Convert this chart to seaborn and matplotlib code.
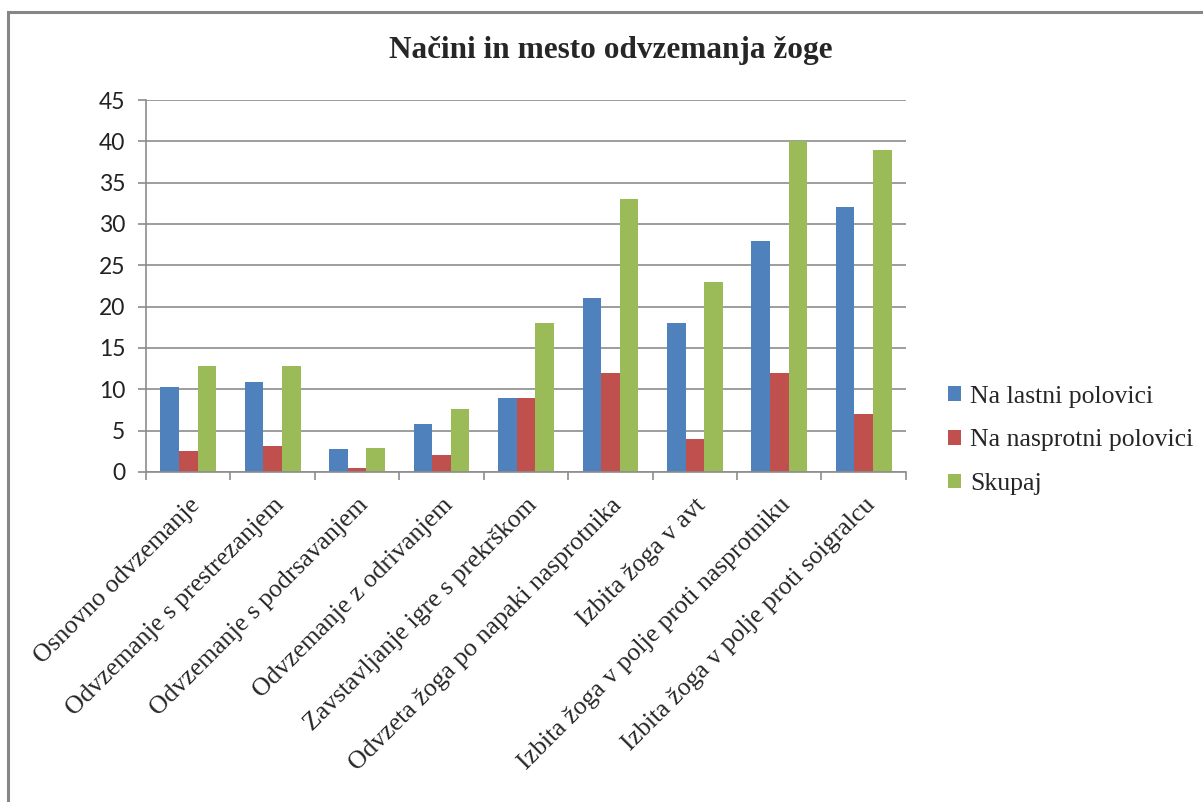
import matplotlib
matplotlib.use("Agg")
import matplotlib.pyplot as plt
import seaborn as sns
import pandas as pd
import numpy as np
from matplotlib.patches import Rectangle

# values
categories = [
    "Osnovno odvzemanje",
    "Odvzemanje s prestrezanjem",
    "Odvzemanje s podrsavanjem",
    "Odvzemanje z odrivanjem",
    "Zavstavljanje igre s prekrškom",
    "Odvzeta žoga po napaki nasprotnika",
    "Izbita žoga v avt",
    "Izbita žoga v polje proti nasprotniku",
    "Izbita žoga v polje proti soigralcu",
]
lastni = [10.3, 10.9, 2.8, 5.8, 8.9, 21, 18, 28, 32]
nasprotni = [2.5, 3.2, 0.5, 2.0, 8.9, 12, 4, 12, 7]
skupaj = [12.8, 12.8, 2.9, 7.6, 18, 33, 23, 40, 39]
series = ["Na lastni polovici", "Na nasprotni polovici", "Skupaj"]
colors = ["#4F81BD", "#C0504D", "#9BBB59"]

df = pd.DataFrame({
    "kategorija": categories * 3,
    "vrednost": lastni + nasprotni + skupaj,
    "serija": [series[0]] * 9 + [series[1]] * 9 + [series[2]] * 9,
})

sns.set_theme(style="white")
serif = ["Liberation Serif", "DejaVu Serif"]
grid_c = "#8c8c8c"

fig = plt.figure(figsize=(12.03, 8.02), dpi=100)
ax = fig.add_axes([0.1214, 0.4115, 0.6316, 0.4638])

sns.barplot(data=df, x="kategorija", y="vrednost", hue="serija",
            palette=colors, width=0.66, gap=0, linewidth=0,
            saturation=1, ax=ax, legend=True)

ax.set_ylim(0, 45)
ax.set_xlim(-0.5, len(categories) - 0.5)
ax.set_yticks(np.arange(0, 46, 5))
ax.set_xlabel("")
ax.set_ylabel("")
ax.yaxis.grid(True, color=grid_c, linewidth=1.2)
ax.set_axisbelow(True)
for s in ["top", "right"]:
    ax.spines[s].set_visible(False)
for s in ["left", "bottom"]:
    ax.spines[s].set_color(grid_c)
    ax.spines[s].set_linewidth(1.2)

ax.tick_params(axis="y", which="major", length=6, color=grid_c, width=1.2,
               direction="out", left=True, labelsize=16.5, pad=9)
for t in ax.get_yticklabels():
    t.set_family(["Lato", "DejaVu Sans"])
    t.set_color("#222222")

ax.set_xticks(np.arange(-0.5, len(categories), 1), minor=True)
ax.tick_params(axis="x", which="minor", length=6, color=grid_c, width=1.2,
               direction="out", bottom=True)
ax.tick_params(axis="x", which="major", length=0, pad=16)
ax.set_xticks(range(len(categories)))
ax.set_xticklabels(categories, rotation=45, ha="right", va="top",
                   rotation_mode="anchor", fontsize=18.5, family=serif)

leg = ax.legend(loc="center left", bbox_to_anchor=(1.025, 0.085), frameon=False,
                prop={"family": serif, "size": 18.5}, handlelength=0.5,
                handleheight=0.5, handletextpad=0.35, labelspacing=0.85)

fig.suptitle("Načini in mesto odvzemanja žoge", x=0.508, y=0.955,
             fontsize=22.5, fontweight="bold", family=serif)

# outer chart frame
fig.patches.append(Rectangle((8 / 1203, -0.1), 1.2, 1.1 - 12 / 802,
                             transform=fig.transFigure, fill=False,
                             edgecolor="#868686", linewidth=2.2))

fig.savefig("out.png", dpi=100)
